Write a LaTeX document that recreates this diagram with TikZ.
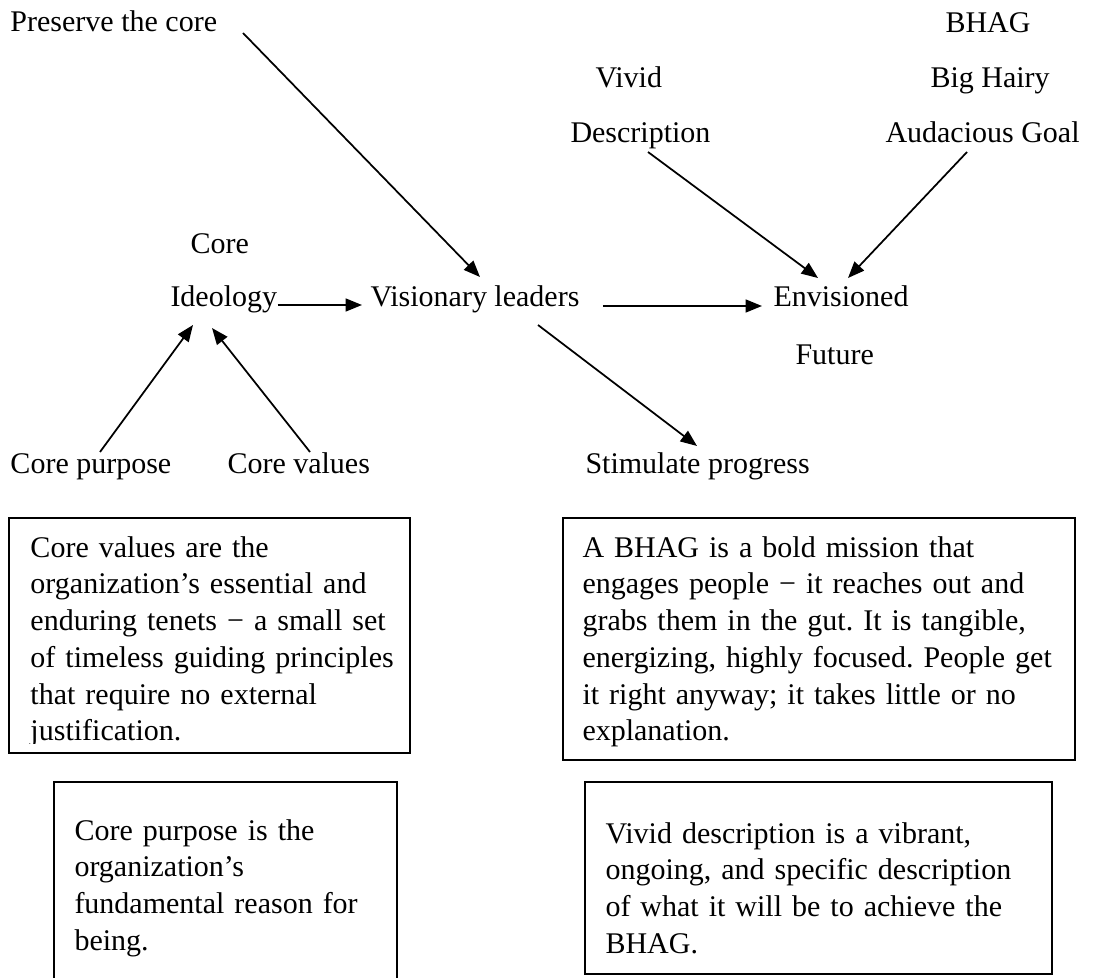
\documentclass[tikz,border=0pt]{standalone}
\usepackage{fontspec}
\setmainfont{Liberation Serif}
\usetikzlibrary{arrows.meta}

\tikzset{
  lbl/.style={inner sep=0pt, anchor=base west, font=\fontsize{12}{14.7}\selectfont\frenchspacing},
  link/.style={-{Triangle[length=6.6pt,width=5.2pt]}, line width=0.7pt},
  descbox/.style={draw, line width=0.6pt, rectangle, inner sep=0pt, outer sep=0pt, anchor=north west},
  boxtext/.style={lbl, align=left, text width=220pt}
}

\begin{document}
\begin{tikzpicture}[x=0.4pt, y=-0.4pt]
            \useasboundingbox (0,0) rectangle (1118,978);

            % Left part
            \node[lbl] (pres) at (10,32) {Preserve the core};
            \node[lbl] (core) at (190,254) {Core};
            \node[lbl] (ideo) at (170,307) {Ideology};
            \node[lbl] (cpur) at (10,473) {Core purpose};
            \node[lbl] (cval) at (227,473) {Core values};

            % Middle part
            \node[lbl] (vis) at (370,307) {Visionary leaders};
            \node[lbl] (stim) at (585,473) {Stimulate progress};

            % Right part
            \node[lbl] (vivid) at (595,88) {Vivid};
            \node[lbl] (desc) at (570,143) {Description};
            \node[lbl] (bhag) at (945,33) {BHAG};
            \node[lbl] (hairy) at (930,88) {Big Hairy};
            \node[lbl] (aud) at (885,143) {Audacious Goal};
            \node[lbl] (env) at (773,307) {Envisioned};
            \node[lbl] (fut) at (795,365) {Future};

            \draw[link] ([shift={(233,1)}]pres.base west) -- ([shift={(110,-30)}]vis.base west);
            \draw[link] ([shift={(0,-2)}]ideo.base east) -- ([shift={(-8,-2)}]vis.base west);
            \draw[link] ([shift={(23,-1)}]vis.base east) -- ([shift={(-11,-1)}]env.base west);
            \draw[link] ([shift={(78,9)}]desc.base west) -- ([shift={(45,-29)}]env.base west);
            \draw[link] ([shift={(82,9)}]aud.base west) -- ([shift={(75,-29)}]env.base west);
            \draw[link] ([shift={(168,18)}]vis.base west) -- ([shift={(112,-27)}]stim.base west);
            \draw[link] ([shift={(90,-21)}]cpur.base west) -- ([shift={(23,18)}]ideo.base west);
            \draw[link] ([shift={(83,-21)}]cval.base west) -- ([shift={(42,21)}]ideo.base west);

            % Boxes
            \node[descbox, minimum width=160.4pt, minimum height=94pt] (valbox) at (9,518) {};
            \node[descbox, minimum width=204.8pt, minimum height=96.8pt] (bhagbox) at (563,518) {};
            \node[descbox, minimum width=137.2pt, minimum height=90pt] (purbox) at (54,782) {};
            \node[descbox, minimum width=186.8pt, minimum height=76.8pt] (vivbox) at (585,782) {};

            \begin{scope}
              \clip (valbox.north west) rectangle ([shift={(0,-10)}]valbox.south east);
              \node[boxtext] (valtxt) at ([shift={(21,39)}]valbox.north west)
                {Core values are the\\organization’s essential and\\enduring tenets − a small set\\of timeless guiding principles\\that require no external\\justification.};
            \end{scope}
            \node[boxtext] (bhagtxt) at ([shift={(19,39)}]bhagbox.north west)
              {A BHAG is a bold mission that\\engages people − it reaches out and\\grabs them in the gut. It is tangible,\\energizing, highly focused. People get\\it right anyway; it takes little or no\\explanation.};
            \node[boxtext] (purtxt) at ([shift={(20,58)}]purbox.north west)
              {Core purpose is the\\organization’s\\fundamental reason for\\being.};
            \node[boxtext] (vivtxt) at ([shift={(20,61)}]vivbox.north west)
              {Vivid description is a vibrant,\\ongoing, and specific description\\of what it will be to achieve the\\BHAG.};
          \end{tikzpicture}
\end{document}
